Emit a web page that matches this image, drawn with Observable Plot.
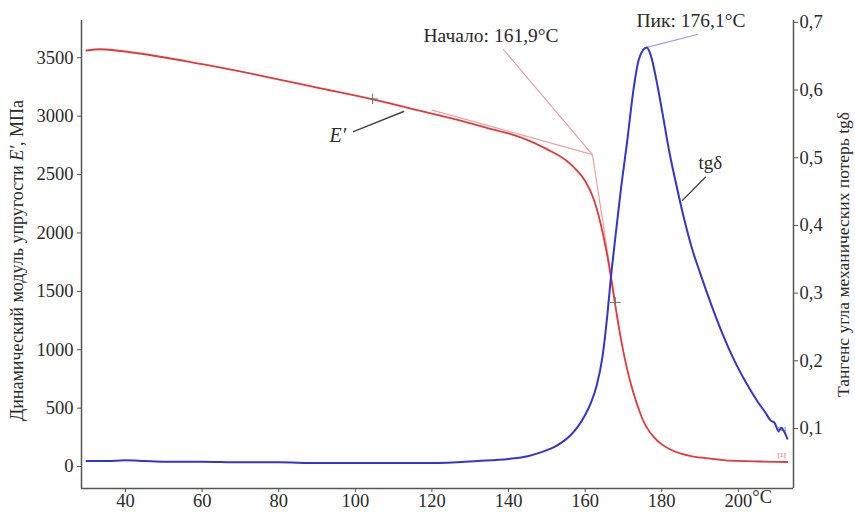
<!DOCTYPE html>
<html>
<head>
<meta charset="utf-8">
<script src="https://cdn.jsdelivr.net/npm/d3@7"></script>
<script src="https://cdn.jsdelivr.net/npm/@observablehq/plot@0.6"></script>
<style>
  html, body { margin: 0; padding: 0; background: #fff; }
  #chart svg, #chart svg text { font-family: "Liberation Serif", "Times New Roman", serif !important; }
  #chart g[aria-label$="tick label"], #chart g[aria-label$="tick label"] text { font-size: 18.5px !important; }
</style>
</head>
<body>
<div id="chart"></div>
<script>
// ---- Data ----
// Storage modulus E' (MPa) vs temperature (°C)
const redT = [29.8, 33.5, 41.3, 60, 75.2, 90, 104, 115, 127.5, 135, 140, 145, 150, 155, 158, 160, 162, 163, 164, 165, 166, 167, 168, 169, 170, 171, 172, 173, 174, 175, 176, 178, 180, 182, 185, 188, 192.7, 198, 205.8, 212.8];
const redE = [3562, 3573, 3547, 3445, 3348, 3245, 3148, 3061, 2962, 2894, 2852, 2795, 2718, 2622, 2530, 2445, 2310, 2210, 2085, 1935, 1765, 1565, 1355, 1155, 980, 830, 700, 590, 490, 405, 340, 250, 190, 150, 110, 88, 68, 50, 43, 39];

// Loss tangent tgδ vs temperature (°C)
const blueT = [29.8, 35, 40, 45, 50, 60, 70, 80, 90, 100, 110, 120, 132, 140, 145, 148, 150, 152, 154, 156, 158, 160, 161.5, 163, 164.5, 165.8, 166.6, 167.9, 169.2, 171.1, 172.6, 173.9, 175.1, 176.1, 177.1, 178.9, 180, 182, 184, 186, 188, 190, 193, 196, 199, 202, 205, 207, 208.4, 209.5, 210.5, 211.2, 211.8, 212.8];
const blueV = [0.052, 0.052, 0.053, 0.052, 0.051, 0.051, 0.050, 0.050, 0.049, 0.049, 0.049, 0.049, 0.052, 0.055, 0.059, 0.064, 0.068, 0.073, 0.080, 0.089, 0.102, 0.120, 0.138, 0.163, 0.205, 0.268, 0.316, 0.383, 0.447, 0.530, 0.600, 0.643, 0.659, 0.663, 0.652, 0.606, 0.572, 0.508, 0.455, 0.406, 0.364, 0.330, 0.282, 0.238, 0.200, 0.168, 0.140, 0.124, 0.112, 0.108, 0.096, 0.101, 0.097, 0.085];

// Axis ticks
const xTicks = [40, 60, 80, 100, 120, 140, 160, 180, 200];
const eTicks = [0, 500, 1000, 1500, 2000, 2500, 3000, 3500];
const tgTicks = [0.1, 0.2, 0.3, 0.4, 0.5, 0.6, 0.7];

// Texts
const LEFT_LABEL = "Динамический модуль упругости E′, МПа";
const RIGHT_LABEL = "Тангенс угла механических потерь tgδ";
const ONSET_TEXT = "Начало: 161,9°C";
const PEAK_TEXT = "Пик: 176,1°C";

// Annotation anchor points (data units)
const onsetT = 161.9, onsetE = 2671;
const tangentA = [[120, 3052], [onsetT, onsetE]];
const tangentB = [[onsetT, onsetE], [167.9, 1404]];
const onsetLeader = [[onsetT, onsetE], [138.7, 3570]];
const onsetLabel = [117.8, 3690];
const peakT = 176.1, peakV = 0.663;
const peakLeader = [[peakT, peakV], [189.3, 0.682]];
const peakLabel = [173.4, 0.7027];
const tgLabel = [192.7, 0.493];
const tgLeader = [[191.4, 0.471], [185.4, 0.437]];
const eLabel = [95.4, 2834];
const eLeader = [[99.5, 2868], [112.6, 3040]];
const plusMarks = [[104.5, 3148], [167.9, 1404]];

// ---- Scales ----
const X_DOM = [28.5, 214.4];
const E_DOM = [-188, 3819];
const TG_DOM = [0.0114, 0.7027];
const toE = v => E_DOM[0] + (v - TG_DOM[0]) / (TG_DOM[1] - TG_DOM[0]) * (E_DOM[1] - E_DOM[0]);
const fromE = e => TG_DOM[0] + (e - E_DOM[0]) / (E_DOM[1] - E_DOM[0]) * (TG_DOM[1] - TG_DOM[0]);

const red = redT.map((t, i) => ({t, e: redE[i]}));
const blue = blueT.map((t, i) => ({t, e: toE(blueV[i])}));
const seg = pts => pts.map(([t, e]) => ({t, e}));
const segTg = pts => pts.map(([t, v]) => ({t, e: toE(v)}));

const RED = "#e03a3a", BLUE = "#3535cc", AX = "#555";
const FONT = "'Liberation Serif', 'Times New Roman', serif";

const chart = Plot.plot({
  width: 855,
  height: 512,
  marginLeft: 81,
  marginRight: 62,
  marginTop: 20,
  marginBottom: 24,
  style: {fontFamily: FONT, fontSize: "16px", color: "#2a2a2a", background: "#fff"},
  x: {domain: X_DOM},
  y: {domain: E_DOM},
  marks: [
    // frame lines (left, right, bottom)
    Plot.ruleX([X_DOM[0], X_DOM[1]], {stroke: AX, strokeWidth: 1.5}),
    Plot.ruleY([E_DOM[0]], {stroke: AX, strokeWidth: 1.5}),
    Plot.axisX({ticks: xTicks, tickFormat: d => String(d), tickSize: 4, tickPadding: 1, label: null, stroke: AX, fontSize: 18.5, fontFamily: FONT}),
    Plot.axisY({ticks: eTicks, tickFormat: d => String(d), tickSize: 4, tickPadding: 4, label: null, stroke: AX, fontSize: 18.5, fontFamily: FONT}),
    Plot.axisY({anchor: "right", ticks: tgTicks.map(toE), tickFormat: d => fromE(d).toFixed(1).replace(".", ","), tickSize: 4, tickPadding: 2, label: null, stroke: AX, fontSize: 18.5, fontFamily: FONT}),
    Plot.text(["°C"], {frameAnchor: "bottom", x: [200], text: d => d, textAnchor: "start", dx: 14, dy: 14, fontSize: 18.5}),
    // axis titles
    Plot.text([LEFT_LABEL], {text: d => d, frameAnchor: "left", textAnchor: "middle", rotate: -90, dx: -64, dy: 6, fontSize: 18}),
    Plot.text([RIGHT_LABEL], {text: d => d, frameAnchor: "right", textAnchor: "middle", rotate: -90, dx: 50, fontSize: 17.5}),
    // tangent construction
    Plot.line(seg(tangentA), {x: "t", y: "e", stroke: "#e9a3a3", strokeWidth: 1.2}),
    Plot.line(seg(tangentB), {x: "t", y: "e", stroke: "#e9a3a3", strokeWidth: 1.2}),
    Plot.line(seg(onsetLeader), {x: "t", y: "e", stroke: "#e6a0a0", strokeWidth: 1.2}),
    Plot.line(segTg(peakLeader), {x: "t", y: "e", stroke: "#9b9be6", strokeWidth: 1.2}),
    // curves
    Plot.line(red, {x: "t", y: "e", stroke: RED, strokeWidth: 1.8, curve: "monotone-x"}),
    Plot.line(blue, {x: "t", y: "e", stroke: BLUE, strokeWidth: 2, curve: "monotone-x"}),
    // plus markers
    Plot.dot(seg(plusMarks), {x: "t", y: "e", symbol: "plus", r: 3.5, stroke: "#777", strokeWidth: 1}),
    // curve labels and leaders
    Plot.line(seg(eLeader), {x: "t", y: "e", stroke: "#444", strokeWidth: 1.4}),
    Plot.text([eLabel], {x: d => d[0], y: d => d[1], text: () => "E′", fontStyle: "italic", fontSize: 20}),
    Plot.line(segTg(tgLeader), {x: "t", y: "e", stroke: "#444", strokeWidth: 1.4}),
    Plot.text([tgLabel], {x: d => d[0], y: d => toE(d[1]), text: () => "tgδ", fontSize: 19}),
    Plot.text([onsetLabel], {x: d => d[0], y: d => d[1], text: () => ONSET_TEXT, textAnchor: "start", fontSize: 19.5}),
    Plot.text([peakLabel], {x: d => d[0], y: d => toE(d[1]), text: () => PEAK_TEXT, textAnchor: "start", fontSize: 19.5}),
    // tiny end markers
    Plot.text([[211.3, 58]], {x: d => d[0], y: d => d[1], text: () => "[1]", fill: RED, fontSize: 7, dy: -5}),
    Plot.text([[211.3, 0.1]], {x: d => d[0], y: d => toE(d[1]), text: () => "[1]", fill: BLUE, fontSize: 7})
  ]
});

document.getElementById("chart").appendChild(chart);

// italic E′ inside the left axis title
d3.select(chart).selectAll("text").filter(function () { return this.textContent === LEFT_LABEL; }).each(function () {
  const t = d3.select(this);
  t.text(null);
  t.append("tspan").text("Динамический модуль упругости ");
  t.append("tspan").attr("font-style", "italic").text("E′");
  t.append("tspan").text(", МПа");
});
</script>
</body>
</html>
